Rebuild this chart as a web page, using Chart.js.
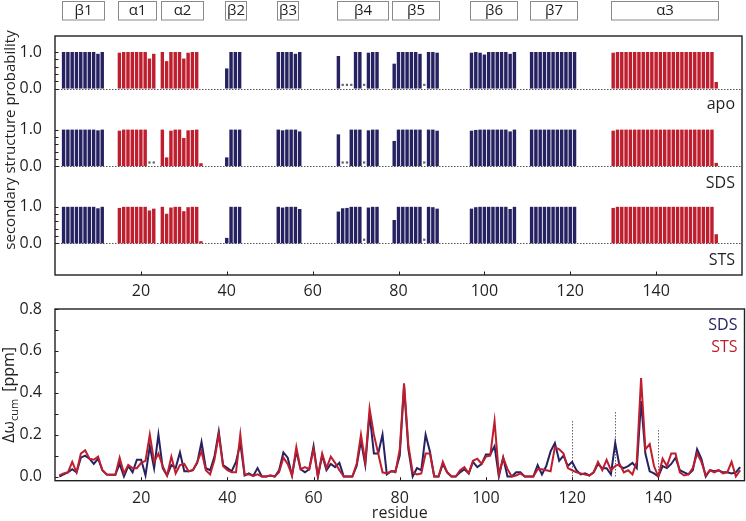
<!DOCTYPE html>
<html lang="en">
<head>
<meta charset="UTF-8">
<title>Secondary structure probability and chemical shift perturbation</title>
<script src="https://cdn.jsdelivr.net/npm/chart.js@4.4.1/dist/chart.umd.min.js"></script>
<style>
  html, body { margin: 0; padding: 0; background: #fff; }
  #wrap { position: relative; width: 746px; height: 521px; }
  #top { position: absolute; left: 0; top: 0; }
  #bottom { position: absolute; left: 0; top: 290px; }
</style>
</head>
<body>
<div id="wrap">
  <canvas id="top" width="746" height="300"></canvas>
  <canvas id="bottom" width="746" height="231"></canvas>
</div>
<script>
const FONT = "'Open Sans', sans-serif";
const NAVY = '#262262';
const RED = '#be1e2d';
const INK = '#231f20';

// secondary structure elements (residue ranges)
const ssNames = ['β1', 'α1', 'α2', 'β2', 'β3', 'β4', 'β5', 'β6', 'β7', 'α3'];
const ssStart = [2, 15, 25, 40, 52, 66, 79, 97, 111, 130];
const ssEnd   = [11, 23, 34, 44, 56, 77, 89, 107, 121, 154];

// residues carrying a bar in the top panel
const barResidues = [
  2, 3, 4, 5, 6, 7, 8, 9, 10, 11,
  15, 16, 17, 18, 19, 20, 21, 22, 23,
  25, 26, 27, 28, 29, 30, 31, 32, 33, 34,
  40, 41, 42, 43,
  52, 53, 54, 55, 56, 57,
  66, 67, 68, 69, 70, 71, 72, 73, 74, 75,
  79, 80, 81, 82, 83, 84, 85, 86, 87, 88, 89,
  97, 98, 99, 100, 101, 102, 103, 104, 105, 106, 107,
  111, 112, 113, 114, 115, 116, 117, 118, 119, 120, 121,
  130, 131, 132, 133, 134, 135, 136, 137, 138, 139, 140, 141, 142,
  143, 144, 145, 146, 147, 148, 149, 150, 151, 152, 153, 154
];

const apoProb = [
  1, 1, 1, 1, 1, 1, 1, 1, 0.95, 1,
  0.98, 1, 1, 1, 1, 1, 1, 0.82, 0.95,
  1, 0.75, 1, 1, 1, 0.82, 0.98, 1, 1, 0,
  0.55, 1, 1, 1,
  1, 1, 1, 1, 0.95, 1,
  0.89, 0, 0, 0, 1, 1, 0, 0.98, 1, 1,
  0.68, 1, 1, 1, 1, 1, 0.95, 0, 1, 1, 0.98,
  0.98, 1, 0.98, 0.93, 1, 1, 1, 1, 1, 0.95, 1,
  1, 1, 1, 1, 1, 1, 1, 1, 1, 1, 1,
  0.98, 1, 1, 1, 1, 1, 1, 1, 1, 1, 1, 1, 1,
  1, 1, 1, 1, 1, 1, 1, 1, 1, 1, 1, 0.18
];
const sdsProb = [
  1, 1, 1, 1, 1, 1, 1, 1, 0.98, 1,
  0.97, 1, 1, 1, 1, 1, 1, 0, 0,
  1, 0.24, 0.97, 1, 1, 0.77, 0.98, 0.99, 1, 0.08,
  0.24, 1, 1, 1,
  1, 0.98, 1, 1, 1, 0.95,
  0.87, 0, 0, 1, 1, 1, 0, 0.98, 1, 1,
  0.69, 1, 1, 1, 1, 1, 1, 0, 1, 1, 0.97,
  0.97, 0.99, 1, 1, 1, 1, 1, 1, 1, 0.95, 1,
  1, 1, 1, 1, 1, 1, 1, 1, 1, 1, 1,
  0.97, 1, 1, 1, 1, 1, 1, 1, 1, 1, 1, 1, 1,
  1, 1, 1, 1, 1, 1, 1, 1, 1, 1, 1, 0.09
];
const stsProb = [
  1, 1, 1, 1, 1, 1, 1, 1, 0.96, 1,
  0.97, 1, 1, 1, 1, 1, 1, 0.9, 0.95,
  1, 0.81, 0.98, 1, 1, 0.88, 0.99, 1, 1, 0.06,
  0.15, 1, 1, 1,
  1, 0.98, 1, 1, 1, 0.94,
  0.87, 0.96, 0.97, 1, 1, 1, 0, 0.98, 1, 1,
  0.64, 1, 1, 1, 1, 1, 1, 0, 1, 0.99, 0.95,
  0.95, 0.99, 1, 1, 1, 1, 1, 1, 1, 0.94, 1,
  1, 1, 1, 1, 1, 1, 1, 1, 1, 1, 1,
  0.97, 1, 1, 1, 1, 1, 1, 1, 1, 1, 1, 1, 1,
  1, 1, 1, 1, 1, 1, 1, 1, 1, 1, 1, 0.25
];

// residues marked with a small grey dot
const apoDots = [67, 68, 69, 72, 86];
const sdsDots = [22, 23, 67, 68, 72, 86];
const stsDots = [72, 86];

// bottom panel: cumulative chemical shift perturbation [ppm]
const residues = [
  1, 2, 3, 4, 5, 6, 7, 8, 9, 10, 11, 12, 13, 14, 15, 16, 17, 18, 19, 20,
  21, 22, 23, 24, 25, 26, 27, 28, 29, 30, 31, 32, 33, 34, 35, 36, 37, 38, 39, 40,
  41, 42, 43, 44, 45, 46, 47, 48, 49, 50, 51, 52, 53, 54, 55, 56, 57, 58, 59, 60,
  61, 62, 63, 64, 65, 66, 67, 68, 69, 70, 71, 72, 73, 74, 75, 76, 77, 78, 79, 80,
  81, 82, 83, 84, 85, 86, 87, 88, 89, 90, 91, 92, 93, 94, 95, 96, 97, 98, 99, 100,
  101, 102, 103, 104, 105, 106, 107, 108, 109, 110, 111, 112, 113, 114, 115, 116, 117, 118, 119, 120,
  121, 122, 123, 124, 125, 126, 127, 128, 129, 130, 131, 132, 133, 134, 135, 136, 137, 138, 139, 140,
  141, 142, 143, 144, 145, 146, 147, 148, 149, 150, 151, 152, 153, 154, 155, 156, 157, 158, 159
];
const sdsShift = [
  0.0, 0.01, 0.02, 0.035, 0.02, 0.09, 0.10, 0.085, 0.06, 0.085,
  0.03, 0.01, 0.008, 0.008, 0.06, 0.0, 0.05, 0.02, 0.08, 0.08,
  0.005, 0.145, 0.04, 0.2, 0.04, 0.005, 0.055, 0.04, 0.115, 0.025,
  0.025, 0.03, 0.065, 0.165, 0.04, 0.03, 0.095, 0.215, 0.055, 0.04,
  0.025, 0.07, 0.16, 0.005, 0.015, 0.003, 0.04, 0.0, 0.0, 0.005,
  0.0, 0.03, 0.115, 0.09, 0.005, 0.12, 0.035, 0.02, 0.035, 0.145,
  0.0, 0.1, 0.03, 0.06, 0.045, 0.065, 0.0, 0.0, 0.0, 0.05,
  0.17, 0.055, 0.3, 0.11, 0.11, 0.2, 0.01, 0.025, 0.025, 0.1,
  0.43, 0.13, 0.0, 0.04, 0.03, 0.2, 0.12, 0.0, 0.0, 0.06,
  0.02, 0.0, 0.0, 0.02, 0.035, 0.015, 0.07, 0.045, 0.06, 0.105,
  0.105, 0.145, 0.0, 0.09, 0.0, 0.0, 0.02, 0.02, 0.0, 0.0,
  0.0, 0.055, 0.01, 0.05, 0.12, 0.16, 0.075, 0.1, 0.05, 0.07,
  0.03, 0.01, 0.015, 0.005, 0.02, 0.06, 0.04, 0.04, 0.01, 0.16,
  0.05, 0.04, 0.05, 0.065, 0.04, 0.36, 0.11, 0.025, 0.015, 0.0,
  0.05, 0.04, 0.06, 0.09, 0.03, 0.02, 0.01, 0.03, 0.13, 0.085,
  0.0, 0.03, 0.025, 0.03, 0.02, 0.02, 0.015, 0.02, 0.045
];
const stsShift = [
  0.005, 0.015, 0.02, 0.07, 0.02, 0.11, 0.125, 0.085, 0.08, 0.095,
  0.03, 0.01, 0.008, 0.008, 0.09, 0.015, 0.055, 0.04, 0.04, 0.065,
  0.075, 0.2, 0.07, 0.11, 0.05, 0.005, 0.095, 0.015, 0.055, 0.06,
  0.025, 0.03, 0.07, 0.12, 0.03, 0.01, 0.08, 0.2, 0.05, 0.03,
  0.02, 0.02, 0.2, 0.01, 0.01, 0.003, 0.01, 0.0, 0.0, 0.005,
  0.0, 0.02, 0.09, 0.06, 0.005, 0.14, 0.035, 0.045, 0.035, 0.13,
  0.0, 0.11, 0.04, 0.095, 0.065, 0.03, 0.0, 0.0, 0.0, 0.06,
  0.2, 0.07, 0.325, 0.2, 0.11, 0.02, 0.015, 0.025, 0.02, 0.13,
  0.445, 0.15, 0.02, 0.01, 0.015, 0.11, 0.11, 0.0, 0.0, 0.07,
  0.02, 0.0, 0.0, 0.03, 0.045, 0.015, 0.075, 0.085, 0.06, 0.095,
  0.1, 0.265, 0.01, 0.09, 0.035, 0.0, 0.005, 0.015, 0.0, 0.0,
  0.0, 0.035, 0.035, 0.03, 0.025, 0.14, 0.13, 0.11, 0.04, 0.03,
  0.02, 0.015, 0.01, 0.005, 0.02, 0.07, 0.03, 0.08, 0.03, 0.05,
  0.06, 0.02, 0.03, 0.01, 0.07, 0.47, 0.13, 0.155, 0.05, 0.0,
  0.085, 0.05, 0.11, 0.11, 0.02, 0.005, 0.01, 0.04, 0.11, 0.07,
  0.005, 0.03, 0.02, 0.03, 0.015, 0.02, 0.07, 0.0, 0.03
];

// dotted reference lines in the bottom panel
const markerRes = [120, 130, 140];
const markerTop = [0.27, 0.31, 0.23];

const xTicks = [20, 40, 60, 80, 100, 120, 140];
const cspTicks = [0, 0.1, 0.2, 0.3, 0.4, 0.5, 0.6, 0.7, 0.8];
const probTicks = [0, 0.2, 0.4, 0.6, 0.8, 1.0];

// vertical placement of the three rows in the top panel (layout only)
const rowNames = ['apo', 'SDS', 'STS'];
const rowBase = [0, -2.123, -4.235];
const rowLabelY = [108.5, 187.5, 265];

const isHelix = (r) => ssNames.some((n, i) => n[0] === 'α' && r >= ssStart[i] && r <= ssEnd[i]);
const barColors = barResidues.map(r => isHelix(r) ? RED : NAVY);

// frame box with inward tick marks, shared by both panels
function drawFrame(chart) {
  const {ctx, chartArea: a, scales: {x, y}} = chart;
  ctx.save();
  ctx.strokeStyle = INK;
  ctx.lineWidth = 1;
  ctx.beginPath();
  y.ticks.forEach(t => {
    const py = Math.round(y.getPixelForValue(t.value)) + 0.5;
    ctx.moveTo(a.left, py); ctx.lineTo(a.left + 3.5, py);
  });
  x.ticks.forEach(t => {
    const px = Math.round(x.getPixelForValue(t.value)) + 0.5;
    ctx.moveTo(px, a.bottom); ctx.lineTo(px, a.bottom - 3.5);
  });
  ctx.stroke();
  ctx.lineWidth = 1.4;
  ctx.strokeRect(a.left, a.top, a.right - a.left, a.bottom - a.top);
  ctx.restore();
}

const topDecor = {
  id: 'topDecor',
  beforeDatasetsDraw(chart) {
    const {ctx, chartArea: a, scales: {y}} = chart;
    ctx.save();
    ctx.strokeStyle = '#555';
    ctx.lineWidth = 1;
    ctx.setLineDash([1.5, 1.5]);
    rowBase.forEach(b => {
      const py = Math.round(y.getPixelForValue(b)) + 0.5;
      ctx.beginPath(); ctx.moveTo(a.left, py); ctx.lineTo(a.right, py); ctx.stroke();
    });
    ctx.restore();
  },
  afterDraw(chart) {
    const {ctx, chartArea: a, scales: {x}} = chart;
    drawFrame(chart);
    ctx.save();
    ctx.fillStyle = INK;
    ctx.font = `16px ${FONT}`;
    ctx.textAlign = 'right';
    ctx.textBaseline = 'alphabetic';
    rowNames.forEach((n, i) => ctx.fillText(n, a.right - 7, rowLabelY[i]));
    // secondary structure boxes
    ctx.textAlign = 'center';
    ctx.textBaseline = 'middle';
    ctx.font = `15px ${FONT}`;
    ctx.strokeStyle = '#8a8a8a';
    ctx.lineWidth = 1;
    ssNames.forEach((n, i) => {
      const x1 = Math.round(x.getPixelForValue(ssStart[i] - 0.4)) + 0.5;
      const x2 = Math.round(x.getPixelForValue(ssEnd[i] + 0.5)) + 0.5;
      ctx.strokeRect(x1, 1.5, x2 - x1, 18.5);
      ctx.fillText(n, (x1 + x2) / 2, 11);
    });
    // y title
    ctx.translate(15, 140);
    ctx.rotate(-Math.PI / 2);
    ctx.textBaseline = 'alphabetic';
    ctx.font = `15px ${FONT}`;
    ctx.fillText('secondary structure probability', 0, 0);
    ctx.restore();
  }
};

const bottomDecor = {
  id: 'bottomDecor',
  beforeDatasetsDraw(chart) {
    const {ctx, scales: {x, y}} = chart;
    ctx.save();
    ctx.strokeStyle = '#666';
    ctx.lineWidth = 1;
    ctx.setLineDash([1.5, 1.5]);
    markerRes.forEach((r, i) => {
      const px = Math.round(x.getPixelForValue(r)) + 0.5;
      ctx.beginPath();
      ctx.moveTo(px, y.getPixelForValue(0));
      ctx.lineTo(px, y.getPixelForValue(markerTop[i]));
      ctx.stroke();
    });
    ctx.restore();
  },
  afterDraw(chart) {
    const {ctx, chartArea: a} = chart;
    drawFrame(chart);
    ctx.save();
    ctx.font = `16px ${FONT}`;
    ctx.textAlign = 'right';
    ctx.fillStyle = NAVY;
    ctx.fillText('SDS', a.right - 7, 40);
    ctx.fillStyle = RED;
    ctx.fillText('STS', a.right - 7, 61.5);
    // y title with subscript
    ctx.fillStyle = INK;
    ctx.textAlign = 'left';
    const big = `16px ${FONT}`, small = `11px ${FONT}`;
    ctx.font = big;
    const w1 = ctx.measureText('Δω').width;
    const w3 = ctx.measureText('[ppm]').width;
    ctx.font = small;
    const w2 = ctx.measureText('cum').width;
    const gap = 7;
    let px = -(w1 + w2 + gap + w3) / 2;
    ctx.translate(14, (a.top + a.bottom) / 2);
    ctx.rotate(-Math.PI / 2);
    ctx.font = big;
    ctx.fillText('Δω', px, 0);
    px += w1;
    ctx.font = small;
    ctx.fillText('cum', px, 4);
    px += w2 + gap;
    ctx.font = big;
    ctx.fillText('[ppm]', px, 0);
    ctx.restore();
  }
};

Chart.defaults.font.family = FONT;
Chart.defaults.color = INK;

const rowProbs = [apoProb, sdsProb, stsProb];
const rowDots = [apoDots, sdsDots, stsDots];
const topDatasets = [];
rowProbs.forEach((probs, k) => {
  topDatasets.push({
    type: 'bar',
    label: rowNames[k],
    data: barResidues.map((r, i) => ({x: r, y: [rowBase[k], rowBase[k] + probs[i]]})),
    backgroundColor: barColors,
    borderWidth: 0,
    barPercentage: 0.8,
    categoryPercentage: 1.0,
    grouped: false
  });
  topDatasets.push({
    type: 'scatter',
    label: rowNames[k] + ' dots',
    data: rowDots[k].map(r => ({x: r, y: rowBase[k] + 0.1})),
    pointStyle: 'rect',
    pointRadius: 1.6,
    backgroundColor: '#666',
    borderWidth: 0
  });
});

new Chart(document.getElementById('top'), {
  type: 'bar',
  data: {datasets: topDatasets},
  options: {
    responsive: false,
    animation: false,
    layout: {padding: {top: 36, right: 1.5, left: 0, bottom: 0}},
    plugins: {legend: {display: false}, tooltip: {enabled: false}},
    scales: {
      x: {
        type: 'linear', min: 0, max: 160, offset: false,
        afterBuildTicks: s => { s.ticks = xTicks.map(v => ({value: v})); },
        afterFit: s => { s.height = 25; },
        grid: {display: false}, border: {display: false},
        ticks: {font: {size: 16, lineHeight: 1}, padding: 0, color: INK, maxRotation: 0, autoSkip: false}
      },
      y: {
        type: 'linear', min: -5.10, max: 1.437,
        afterBuildTicks: s => {
          s.ticks = rowBase.flatMap(b => probTicks.map(p => ({value: b + p})));
        },
        afterFit: s => { s.width = 55; },
        grid: {display: false}, border: {display: false},
        ticks: {
          font: {size: 16}, padding: 5, color: INK, autoSkip: false,
          callback: (v) => {
            for (const b of rowBase) {
              if (Math.abs(v - b) < 1e-6) return '0.0';
              if (Math.abs(v - b - 1) < 1e-6) return '1.0';
            }
            return '';
          }
        }
      }
    }
  },
  plugins: [topDecor]
});

new Chart(document.getElementById('bottom'), {
  type: 'line',
  data: {
    datasets: [
      {label: 'SDS', data: residues.map((r, i) => ({x: r, y: sdsShift[i]})),
       borderColor: NAVY, borderWidth: 2, pointRadius: 0, tension: 0, order: 1},
      {label: 'STS', data: residues.map((r, i) => ({x: r, y: stsShift[i]})),
       borderColor: RED, borderWidth: 2, pointRadius: 0, tension: 0, order: 0}
    ]
  },
  options: {
    responsive: false,
    animation: false,
    layout: {padding: {top: 19, right: 1.5, left: 0, bottom: 0}},
    plugins: {legend: {display: false}, tooltip: {enabled: false}},
    scales: {
      x: {
        type: 'linear', min: 0, max: 160,
        afterBuildTicks: s => { s.ticks = xTicks.map(v => ({value: v})); },
        afterFit: s => { s.height = 40.3; },
        grid: {display: false}, border: {display: false},
        ticks: {font: {size: 16, lineHeight: 1}, padding: 1.5, color: INK, maxRotation: 0, autoSkip: false},
        title: {display: true, text: 'residue', font: {size: 16, lineHeight: 1}, padding: 0, color: INK}
      },
      y: {
        type: 'linear', min: -0.02, max: 0.8,
        afterBuildTicks: s => { s.ticks = cspTicks.map(v => ({value: v})); },
        afterFit: s => { s.width = 55; },
        grid: {display: false}, border: {display: false},
        ticks: {
          font: {size: 16}, padding: 5, color: INK, autoSkip: false,
          callback: (v) => (Math.round(v * 10) % 2 === 0 ? v.toFixed(1) : '')
        }
      }
    }
  },
  plugins: [bottomDecor]
});
</script>
</body>
</html>
